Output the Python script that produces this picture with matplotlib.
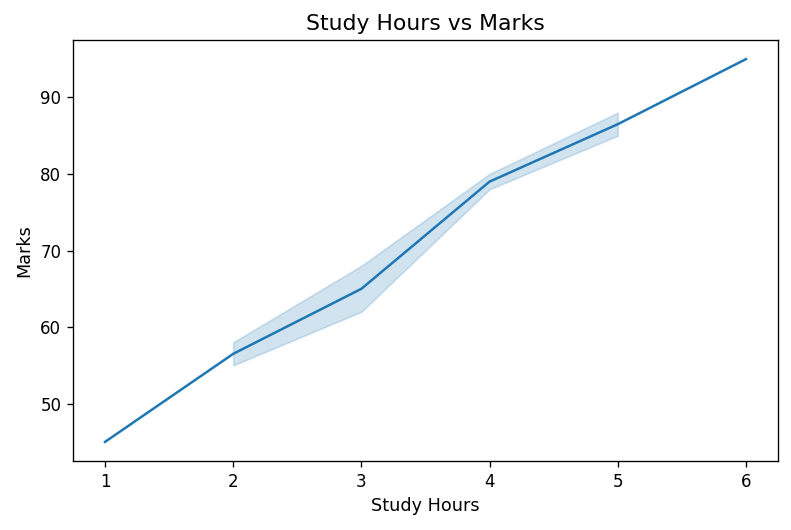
import pandas as pd
import seaborn as sns
import matplotlib
matplotlib.use("Agg")
import matplotlib.pyplot as plt

# study hours and the marks recorded for them
hours = [1, 2, 2, 3, 3, 4, 4, 5, 5, 6]
marks = [45, 55, 58, 62, 68, 78, 80, 85, 88, 95]

df = pd.DataFrame({"Study Hours": hours, "Marks": marks})

plt.figure(figsize=(791 / 120, 530 / 120), dpi=120)
ax = sns.lineplot(data=df, x="Study Hours", y="Marks", errorbar=("pi", 100))
plt.title("Study Hours vs Marks", fontsize=13.1)
ax.set_xlabel("Study Hours", fontsize=10.6)
ax.set_ylabel("Marks", fontsize=10.6)
plt.subplots_adjust(left=73 / 791, right=778 / 791, top=1 - 40 / 530, bottom=1 - 461 / 530)
plt.savefig("out.png", dpi=120)
